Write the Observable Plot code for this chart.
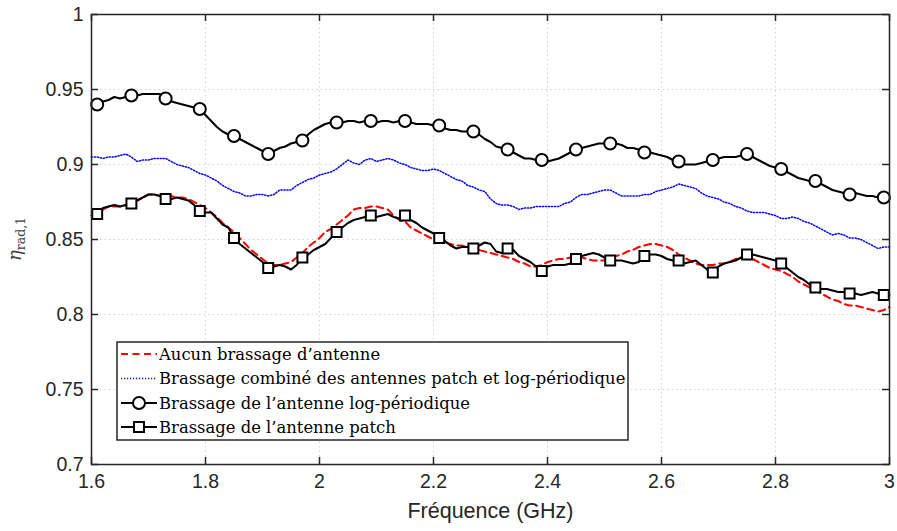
<!DOCTYPE html>
<html>
<head>
<meta charset="utf-8">
<script src="https://cdn.jsdelivr.net/npm/d3@7"></script>
<script src="https://cdn.jsdelivr.net/npm/@observablehq/plot@0.6"></script>
<style>
  html, body { margin: 0; padding: 0; background: #fff; }
  #chart { width: 897px; height: 531px; }
</style>
</head>
<body>
<div id="chart"></div>
<script>
// Frequency grid (GHz)
const freq = [1.60,1.61,1.62,1.63,1.64,1.65,1.66,1.67,1.68,1.69,1.70,1.71,1.72,1.73,1.74,1.75,1.76,1.77,1.78,1.79,
1.80,1.81,1.82,1.83,1.84,1.85,1.86,1.87,1.88,1.89,1.90,1.91,1.92,1.93,1.94,1.95,1.96,1.97,1.98,1.99,
2.00,2.01,2.02,2.03,2.04,2.05,2.06,2.07,2.08,2.09,2.10,2.11,2.12,2.13,2.14,2.15,2.16,2.17,2.18,2.19,
2.20,2.21,2.22,2.23,2.24,2.25,2.26,2.27,2.28,2.29,2.30,2.31,2.32,2.33,2.34,2.35,2.36,2.37,2.38,2.39,
2.40,2.41,2.42,2.43,2.44,2.45,2.46,2.47,2.48,2.49,2.50,2.51,2.52,2.53,2.54,2.55,2.56,2.57,2.58,2.59,
2.60,2.61,2.62,2.63,2.64,2.65,2.66,2.67,2.68,2.69,2.70,2.71,2.72,2.73,2.74,2.75,2.76,2.77,2.78,2.79,
2.80,2.81,2.82,2.83,2.84,2.85,2.86,2.87,2.88,2.89,2.90,2.91,2.92,2.93,2.94,2.95,2.96,2.97,2.98,2.99,3.00];

// Aucun brassage d'antenne (red dashed)
const aucun = [0.868,0.868,0.870,0.872,0.872,0.872,0.873,0.875,0.876,0.878,0.880,0.880,0.879,0.879,0.879,0.878,0.878,0.877,0.875,0.873,
0.871,0.868,0.865,0.861,0.858,0.855,0.851,0.847,0.843,0.840,0.837,0.834,0.833,0.833,0.834,0.835,0.838,0.841,0.845,0.848,
0.851,0.855,0.857,0.860,0.863,0.866,0.870,0.871,0.871,0.872,0.872,0.871,0.870,0.866,0.863,0.862,0.858,0.856,0.854,0.852,
0.850,0.849,0.848,0.847,0.846,0.846,0.845,0.843,0.843,0.842,0.841,0.840,0.839,0.838,0.837,0.835,0.834,0.832,0.832,0.833,
0.835,0.836,0.837,0.837,0.838,0.838,0.838,0.837,0.836,0.836,0.836,0.837,0.839,0.840,0.842,0.843,0.845,0.846,0.847,0.847,
0.846,0.845,0.843,0.840,0.838,0.836,0.834,0.833,0.833,0.833,0.834,0.834,0.835,0.837,0.838,0.838,0.837,0.835,0.833,0.831,
0.830,0.829,0.827,0.825,0.822,0.820,0.818,0.816,0.814,0.812,0.810,0.809,0.807,0.806,0.806,0.805,0.804,0.803,0.802,0.803,0.805];

// Brassage combiné des antennes patch et log-périodique (blue dotted)
const combine = [0.905,0.905,0.904,0.905,0.905,0.906,0.907,0.905,0.902,0.903,0.903,0.904,0.904,0.904,0.902,0.900,0.899,0.898,0.896,0.894,
0.893,0.891,0.889,0.886,0.884,0.882,0.881,0.879,0.879,0.880,0.880,0.879,0.880,0.883,0.883,0.883,0.886,0.888,0.890,0.891,
0.893,0.894,0.895,0.897,0.900,0.903,0.901,0.900,0.903,0.904,0.902,0.903,0.904,0.903,0.901,0.900,0.898,0.897,0.896,0.896,
0.897,0.896,0.894,0.892,0.890,0.889,0.886,0.885,0.883,0.882,0.877,0.874,0.873,0.873,0.872,0.870,0.871,0.871,0.872,0.872,
0.872,0.872,0.872,0.874,0.875,0.878,0.880,0.880,0.881,0.882,0.883,0.883,0.881,0.879,0.879,0.879,0.879,0.880,0.880,0.882,
0.883,0.884,0.885,0.887,0.886,0.885,0.884,0.881,0.879,0.878,0.877,0.875,0.874,0.872,0.871,0.869,0.868,0.868,0.868,0.867,
0.866,0.864,0.864,0.865,0.864,0.862,0.861,0.859,0.857,0.855,0.853,0.854,0.853,0.851,0.851,0.850,0.848,0.846,0.844,0.845,0.845];

// Brassage de l'antenne log-périodique (black, circles)
const logPer = [0.940,0.940,0.942,0.943,0.945,0.944,0.945,0.946,0.946,0.947,0.947,0.947,0.947,0.944,0.942,0.941,0.940,0.939,0.938,0.937,
0.933,0.929,0.925,0.922,0.920,0.919,0.917,0.915,0.913,0.911,0.909,0.907,0.909,0.911,0.912,0.914,0.915,0.916,0.920,0.923,
0.925,0.927,0.928,0.928,0.928,0.929,0.929,0.928,0.929,0.929,0.928,0.929,0.929,0.928,0.929,0.929,0.928,0.927,0.927,0.927,
0.926,0.926,0.924,0.923,0.923,0.922,0.922,0.922,0.920,0.917,0.915,0.912,0.911,0.910,0.908,0.906,0.904,0.904,0.903,0.903,
0.902,0.903,0.904,0.906,0.908,0.910,0.911,0.912,0.913,0.914,0.914,0.914,0.914,0.913,0.911,0.911,0.910,0.908,0.908,0.907,
0.906,0.905,0.903,0.902,0.900,0.900,0.900,0.901,0.902,0.903,0.904,0.905,0.905,0.905,0.906,0.907,0.905,0.903,0.901,0.899,
0.898,0.897,0.895,0.893,0.891,0.890,0.889,0.889,0.887,0.885,0.883,0.882,0.881,0.880,0.881,0.880,0.879,0.879,0.878,0.878,0.877];

// Brassage de l'antenne patch (black, squares)
const patch = [0.866,0.867,0.871,0.872,0.873,0.872,0.873,0.874,0.876,0.878,0.880,0.880,0.879,0.877,0.877,0.878,0.877,0.876,0.873,0.869,
0.868,0.868,0.864,0.860,0.858,0.851,0.847,0.844,0.841,0.838,0.835,0.831,0.832,0.833,0.832,0.830,0.833,0.838,0.840,0.843,
0.845,0.847,0.851,0.855,0.858,0.861,0.863,0.864,0.865,0.866,0.865,0.866,0.867,0.865,0.864,0.866,0.863,0.861,0.858,0.856,
0.854,0.851,0.849,0.846,0.844,0.845,0.845,0.844,0.846,0.848,0.847,0.842,0.841,0.844,0.843,0.839,0.837,0.835,0.832,0.829,
0.832,0.833,0.833,0.833,0.834,0.837,0.839,0.840,0.841,0.840,0.838,0.836,0.836,0.836,0.835,0.834,0.835,0.839,0.840,0.840,
0.839,0.837,0.836,0.836,0.834,0.835,0.836,0.833,0.830,0.828,0.832,0.834,0.835,0.836,0.838,0.840,0.840,0.839,0.838,0.837,
0.836,0.834,0.831,0.828,0.825,0.823,0.820,0.818,0.817,0.817,0.816,0.815,0.815,0.814,0.814,0.813,0.814,0.815,0.814,0.813,0.813];

// Marker frequencies
const markerFreq = [1.61,1.67,1.73,1.79,1.85,1.91,1.97,2.03,2.09,2.15,2.21,2.27,2.33,2.39,2.45,2.51,2.57,2.63,2.69,2.75,2.81,2.87,2.93,2.99];

// Ticks
const xTicks = [1.6, 1.8, 2.0, 2.2, 2.4, 2.6, 2.8, 3.0];
const xTickLabels = ["1.6", "1.8", "2", "2.2", "2.4", "2.6", "2.8", "3"];
const yTicks = [0.7, 0.75, 0.8, 0.85, 0.9, 0.95, 1.0];
const yTickLabels = ["0.7", "0.75", "0.8", "0.85", "0.9", "0.95", "1"];

const xLabel = "Fréquence (GHz)";
const seriesNames = [
  "Aucun brassage d\u2019antenne",
  "Brassage combiné des antennes patch et log-périodique",
  "Brassage de l\u2019antenne log-périodique",
  "Brassage de l\u2019antenne patch"
];

const toRows = (vals) => freq.map((f, i) => ({f, v: vals[i]}));
const markerRows = (vals) => markerFreq.map(m => {
  const i = freq.findIndex(f => Math.abs(f - m) < 1e-9);
  return {f: m, v: vals[i]};
});

const W = 897, H = 531, mL = 91, mR = 8, mT = 14, mB = 67;
const plotW = W - mL - mR, plotH = H - mT - mB;
const axisColor = "#262626";
const tickFont = "Liberation Sans, Arial, sans-serif";
const blueDash = "1.2,1.8";
const redDash = "7,4.5";

const chart = Plot.plot({
  width: W, height: H,
  marginLeft: mL, marginRight: mR, marginTop: mT, marginBottom: mB,
  x: {domain: [1.6, 3], axis: null},
  y: {domain: [0.7, 1], axis: null},
  style: {background: "#fff", overflow: "visible"},
  marks: [
    Plot.gridX(xTicks, {stroke: "#d2d2d2", strokeOpacity: 1, strokeWidth: 1, strokeDasharray: "1.5,3"}),
    Plot.gridY(yTicks, {stroke: "#d2d2d2", strokeOpacity: 1, strokeWidth: 1, strokeDasharray: "1.5,3"}),
    Plot.line(toRows(aucun), {x: "f", y: "v", stroke: "#ff0000", strokeWidth: 2, strokeDasharray: redDash}),
    Plot.line(toRows(combine), {x: "f", y: "v", stroke: "#0000ff", strokeWidth: 1.5, strokeDasharray: blueDash}),
    Plot.line(toRows(logPer), {x: "f", y: "v", stroke: "#000", strokeWidth: 2}),
    Plot.line(toRows(patch), {x: "f", y: "v", stroke: "#000", strokeWidth: 2}),
    Plot.dot(markerRows(logPer), {x: "f", y: "v", r: 6, symbol: "circle", fill: "#fff", stroke: "#000", strokeWidth: 2}),
    Plot.dot(markerRows(patch), {x: "f", y: "v", r: 5.6, symbol: "square", fill: "#fff", stroke: "#000", strokeWidth: 2}),
    // inward ticks
    Plot.tickX(xTicks, {x: d => d, stroke: axisColor, strokeWidth: 1.5, insetTop: plotH - 7}),
    Plot.tickX(xTicks, {x: d => d, stroke: axisColor, strokeWidth: 1.5, insetBottom: plotH - 7}),
    Plot.tickY(yTicks, {y: d => d, stroke: axisColor, strokeWidth: 1.5, insetRight: plotW - 7}),
    Plot.tickY(yTicks, {y: d => d, stroke: axisColor, strokeWidth: 1.5, insetLeft: plotW - 7}),
    Plot.frame({stroke: axisColor, strokeWidth: 1.5}),
    // tick labels
    Plot.text(xTicks, {x: d => d, frameAnchor: "bottom", dy: 23, text: (d, i) => xTickLabels[i],
      fill: axisColor, fontSize: 19.5, fontFamily: tickFont}),
    Plot.text(yTicks, {y: d => d, frameAnchor: "left", dx: -8, textAnchor: "end", text: (d, i) => yTickLabels[i],
      fill: axisColor, fontSize: 19.5, fontFamily: tickFont}),
    Plot.text([xLabel], {frameAnchor: "bottom", dy: 53, text: d => d,
      fill: axisColor, fontSize: 21.5, fontFamily: tickFont})
  ]
});

document.getElementById("chart").appendChild(chart);

const svg = d3.select(chart);

// y-axis label: eta_{rad,1}
const yl = svg.append("text")
  .attr("transform", `translate(21, ${mT + plotH / 2}) rotate(-90)`)
  .attr("text-anchor", "middle")
  .attr("fill", "#404040")
  .attr("font-family", "DejaVu Serif, Liberation Serif, serif");
yl.append("tspan").attr("font-style", "italic").attr("font-size", 18).text("η");
yl.append("tspan").attr("font-size", 12.5).attr("dy", 4).text("rad,1");

// Legend
const lg = svg.append("g");
lg.append("rect").attr("x", 117).attr("y", 342).attr("width", 511).attr("height", 98)
  .attr("fill", "#fff").attr("stroke", axisColor).attr("stroke-width", 1.5);
const rowsY = [354, 378.5, 403, 427];
const sx0 = 121, sx1 = 157, smid = 139;
// red dashed
lg.append("line").attr("x1", sx0).attr("x2", sx1).attr("y1", rowsY[0]).attr("y2", rowsY[0])
  .attr("stroke", "#ff0000").attr("stroke-width", 2).attr("stroke-dasharray", redDash);
// blue dotted
lg.append("line").attr("x1", sx0).attr("x2", sx1).attr("y1", rowsY[1]).attr("y2", rowsY[1])
  .attr("stroke", "#0000ff").attr("stroke-width", 1.5).attr("stroke-dasharray", blueDash);
// circle
lg.append("line").attr("x1", sx0).attr("x2", sx1).attr("y1", rowsY[2]).attr("y2", rowsY[2])
  .attr("stroke", "#000").attr("stroke-width", 2);
lg.append("circle").attr("cx", smid).attr("cy", rowsY[2]).attr("r", 6)
  .attr("fill", "#fff").attr("stroke", "#000").attr("stroke-width", 2);
// square
lg.append("line").attr("x1", sx0).attr("x2", sx1).attr("y1", rowsY[3]).attr("y2", rowsY[3])
  .attr("stroke", "#000").attr("stroke-width", 2);
lg.append("rect").attr("x", smid - 5).attr("y", rowsY[3] - 5).attr("width", 10).attr("height", 10)
  .attr("fill", "#fff").attr("stroke", "#000").attr("stroke-width", 2);
seriesNames.forEach((name, i) => {
  lg.append("text").attr("x", 159).attr("y", rowsY[i]).attr("dy", "0.36em")
    .attr("text-anchor", "start")
    .attr("font-family", "DejaVu Serif, Liberation Serif, serif").attr("font-size", 16.4)
    .attr("fill", "#000").text(name);
});
</script>
</body>
</html>
